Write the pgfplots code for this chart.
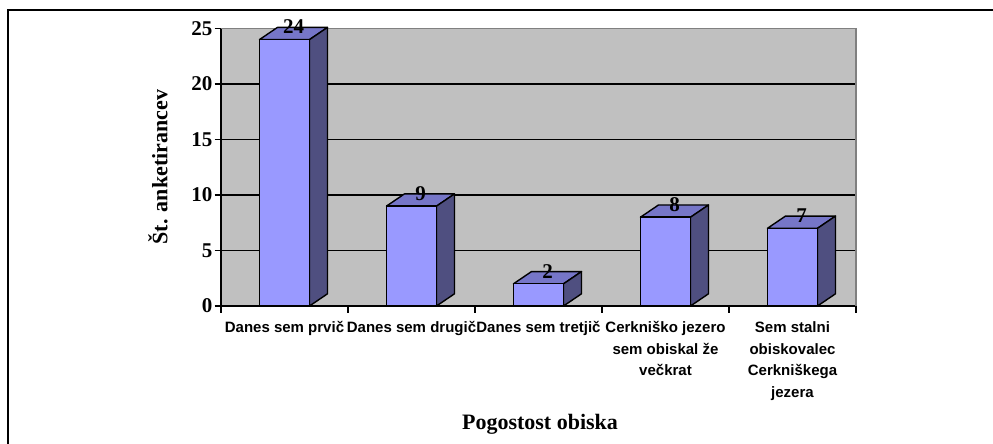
\documentclass[border=0pt]{standalone}
\usepackage{pgfplots}
\usepackage{pgfplotstable}
\pgfplotsset{compat=1.18}
\usepackage{fontspec}
\setmainfont{Liberation Serif}
\newfontfamily\arialfont{Liberation Sans}
\definecolor{wallc}{HTML}{C0C0C0}
\definecolor{wallb}{HTML}{808080}
\definecolor{frontc}{HTML}{9999FF}
\definecolor{topc}{HTML}{7676C8}
\definecolor{sidec}{HTML}{4F4F80}
\pgfplotstableread{
x y
0 24
1 9
2 2
3 8
4 7
}\data
\begin{document}
\begin{tikzpicture}[x=1pt,y=1pt]
\useasboundingbox (0,0) rectangle (993,444);
\draw[line width=1.5pt] (8,-2) -- (8,434) -- (995,434);
\begin{axis}[
  at={(221pt,138pt)}, anchor=south west,
  scale only axis, width=635pt, height=277.5pt,
  xmin=-0.5, xmax=4.5, ymin=0, ymax=25,
  clip=false,
  axis x line*=bottom, axis y line*=left,
  axis line style={black, line width=1.5pt, -},
  axis background/.style={fill=wallc},
  tick align=outside, major tick length=6.5pt,
  tick style={black, line width=1.5pt},
  xtick={-0.5,0.5,1.5,2.5,3.5,4.5},
  x tick label as interval,
  xticklabels={{Danes sem prvič},{Danes sem drugič},{Danes sem tretjič},{Cerkniško jezero\\sem obiskal že\\večkrat},{Sem stalni\\obiskovalec\\Cerkniškega\\jezera},{}},
  xticklabel style={font=\arialfont\bfseries\fontsize{15}{21.5}\selectfont, align=center, inner sep=0pt, yshift=-9pt},
  ytick={0,5,...,25},
  yticklabel style={font=\bfseries\fontsize{21}{21}\selectfont, inner sep=0pt, xshift=-2pt},
  /pgf/number format/assume math mode=true,
  ymajorgrids, grid style={black, line width=1.5pt},
  xlabel={Pogostost obiska},
  xlabel style={font=\bfseries\fontsize{22}{22}\selectfont, at={(axis description cs:0.5,0)}, anchor=base, yshift=-123pt, xshift=1.5pt},
  ylabel={Št. anketirancev},
  ylabel style={font=\bfseries\fontsize{22}{22}\selectfont, at={(axis description cs:-0.0992,0.5)}, anchor=center},
]
\draw[wallb, line width=1.5pt] (rel axis cs:0,1) -- (rel axis cs:1,1) -- (rel axis cs:1,0);
\pgfplotsinvokeforeach{0,...,4}{
  \pgfplotstablegetelem{#1}{y}\of\data
  \pgfmathsetmacro\v{\pgfplotsretval}
  \pgfmathsetmacro\xl{#1-0.197}
  \pgfmathsetmacro\xr{#1+0.197}
  \pgfmathsetmacro\xlb{#1-0.197+0.1417}
  \pgfmathsetmacro\xrb{#1+0.197+0.1417}
  \pgfmathsetmacro\vb{\v+1.1}
  \edef\temp{\noexpand\addplot[fill=topc, draw=black, line width=1.4pt, line join=round] coordinates {(\xl,\v) (\xlb,\vb) (\xrb,\vb) (\xr,\v)} -- cycle;
  \noexpand\addplot[fill=sidec, draw=black, line width=1.4pt, line join=round] coordinates {(\xr,0) (\xr,\v) (\xrb,\vb) (\xrb,1.1)} -- cycle;}
  \temp
}
\addplot[ybar, bar width=0.394, fill=frontc, draw=black, line width=1.4pt,
  nodes near coords,
  every node near coord/.append style={font=\bfseries\fontsize{21}{21}\selectfont, anchor=south, inner sep=0pt, yshift=5pt, xshift=9pt, text=black}]
  table[x=x,y=y]{\data};
\end{axis}
\end{tikzpicture}
\end{document}
